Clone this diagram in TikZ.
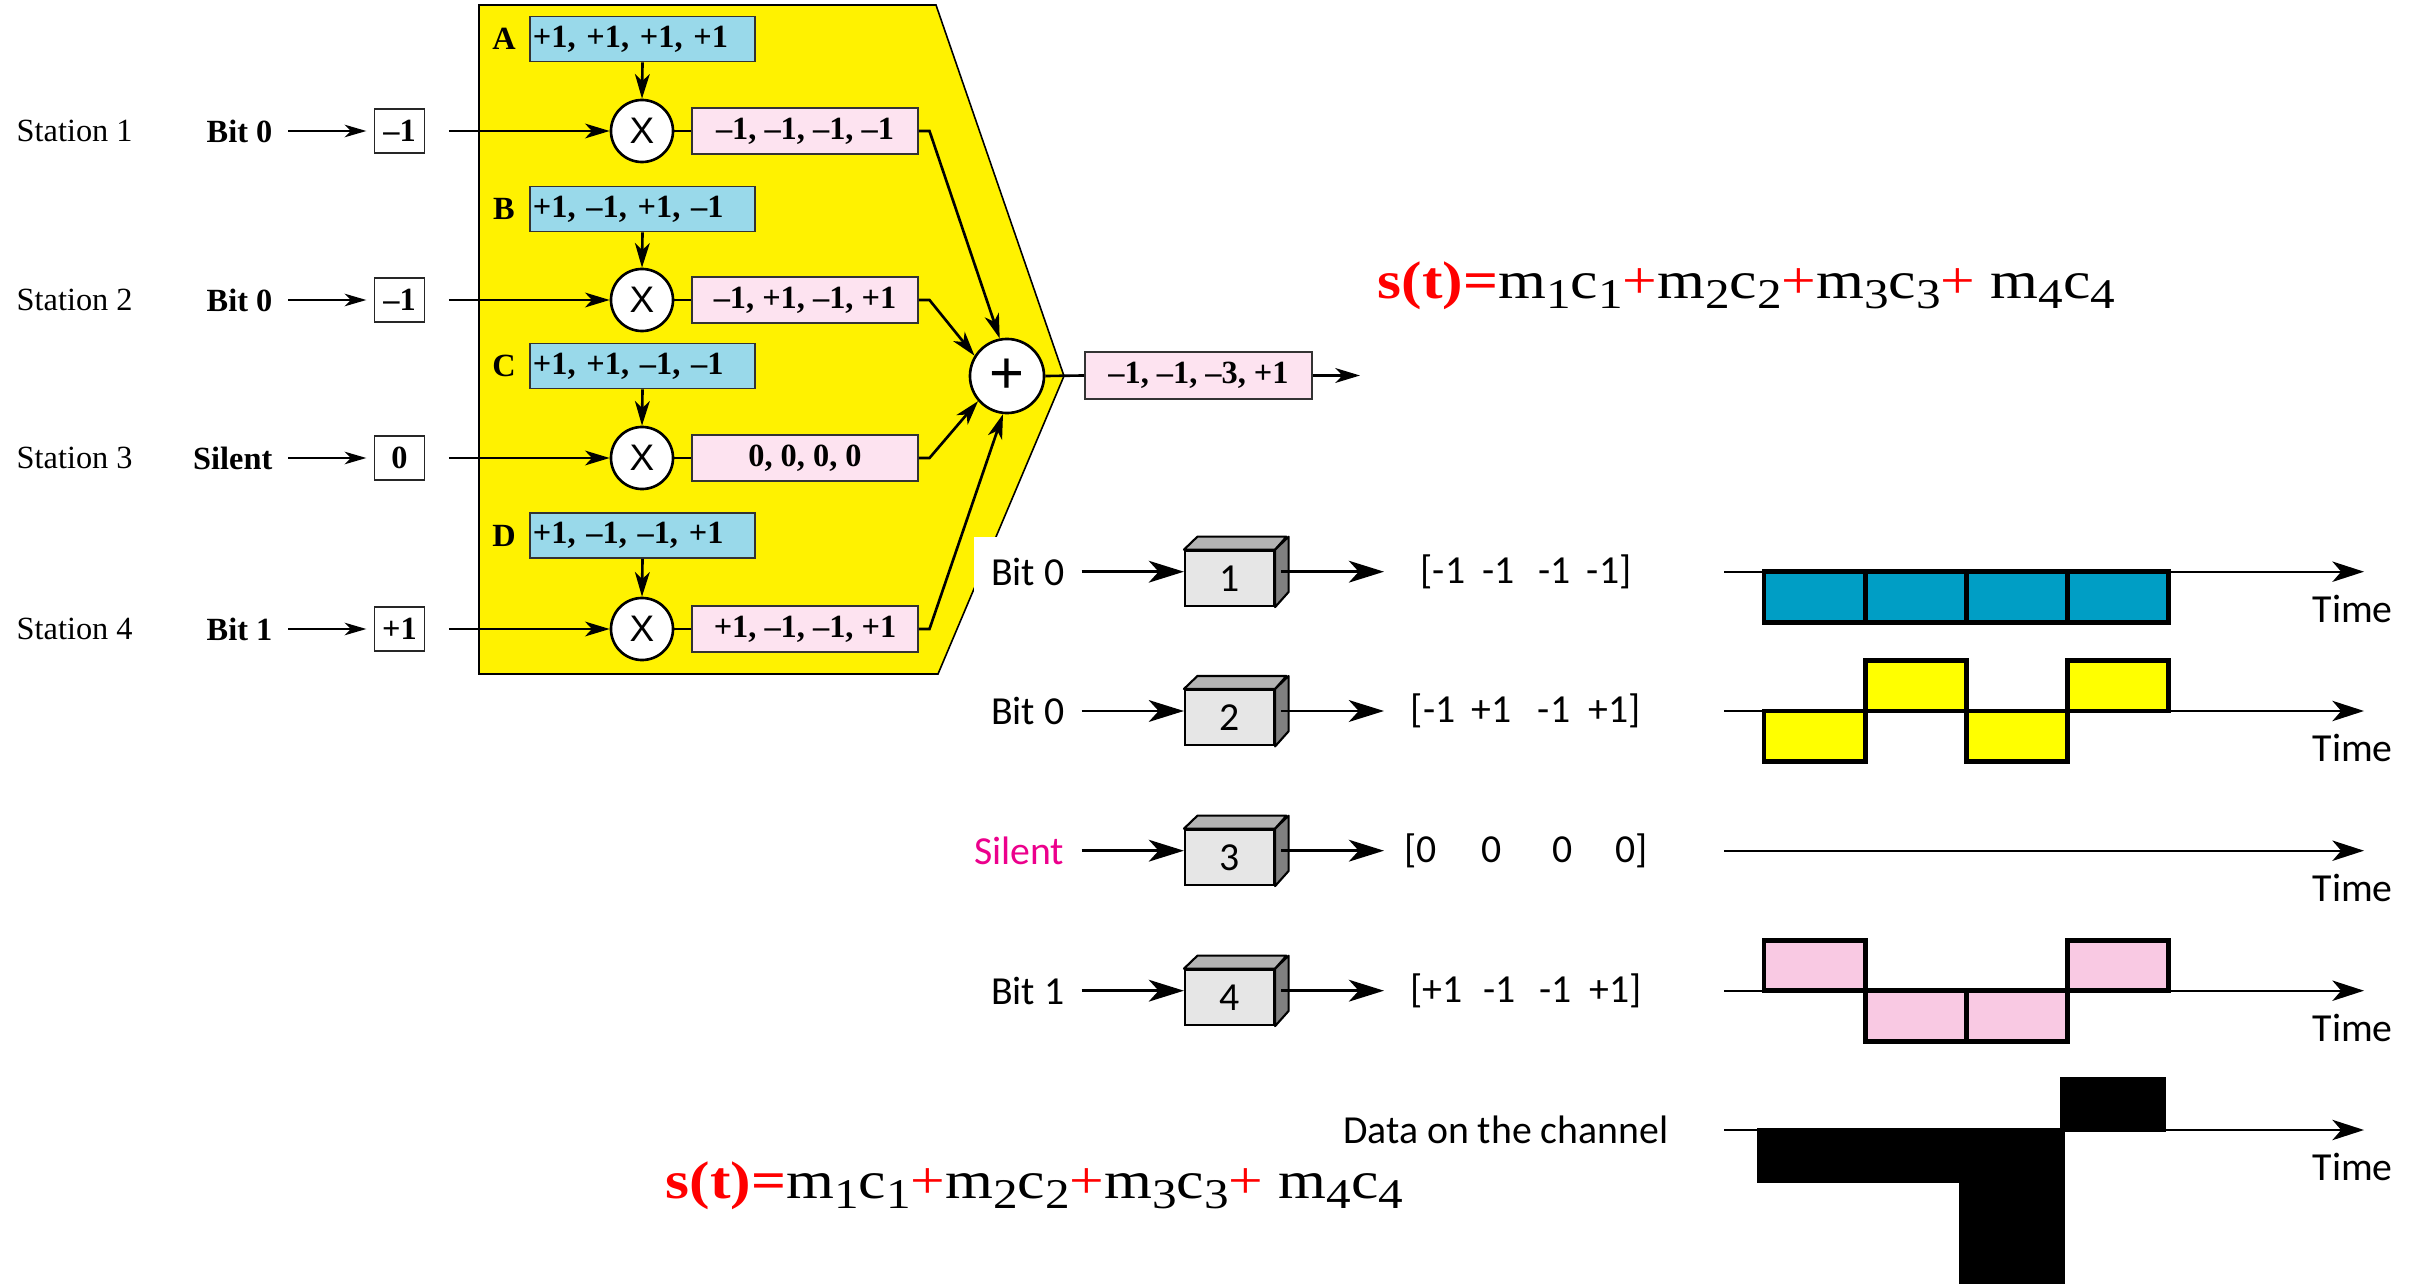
\documentclass[tikz,border=0pt]{standalone}
\usepackage{fontspec}
\setmainfont{Liberation Serif}
\newfontfamily\fArial{Liberation Sans}
\newfontfamily\fMyr{Carlito}
\usetikzlibrary{arrows.meta}
\definecolor{codeblue}{HTML}{99D9EA}
\definecolor{respink}{HTML}{FDE3F0}
\definecolor{wblue}{HTML}{009EC5}
\definecolor{wpink}{HTML}{F9C9E3}
\definecolor{wyellow}{HTML}{FFFF00}
\definecolor{cubefront}{HTML}{E6E6E6}
\definecolor{cubetop}{HTML}{B3B3B3}
\definecolor{cubeside}{HTML}{808080}
\definecolor{silentc}{HTML}{EC008C}
\definecolor{fred}{HTML}{FF0000}
\def\PX{0.28453pt}
\newcommand\sbx[1]{\raisebox{-3.6pt}{\fontsize{14}{15}\selectfont #1}}
\newcommand\formulax{\scalebox{1}[0.86]{\fontsize{17.5}{20}\selectfont\textcolor{fred}{\textbf{s(t)=}}m\sbx{1}c\sbx{1}\textcolor{fred}{+}m\sbx{2}c\sbx{2}\textcolor{fred}{+}m\sbx{3}c\sbx{3}\textcolor{fred}{+} m\sbx{4}c\sbx{4}}}
\begin{document}
\begin{tikzpicture}[x=0.01cm,y=-0.01cm,
 stat/.style={font=\fontsize{9.2}{11}\selectfont, inner sep=0pt, anchor=west},
 bitl/.style={font=\fontsize{9.2}{11}\selectfont\bfseries, inner sep=0pt, anchor=east},
 valbox/.style={draw=black!85, line width=0.45pt, fill=white, minimum width={50*\PX}, minimum height={44*\PX}, inner sep=0pt, font=\fontsize{9.2}{11}\selectfont\bfseries},
 codebox/.style={draw=black!80, line width=0.5pt, fill=codeblue, text width={219*\PX}, align=left, inner xsep={3*\PX}, inner ysep=0pt, minimum height={45*\PX}, font=\fontsize{9.2}{11}\selectfont\bfseries},
 resbox/.style={draw=black!80, line width=0.5pt, fill=respink, minimum width={226*\PX}, minimum height={46*\PX}, inner sep=0pt, font=\fontsize{9.2}{11}\selectfont\bfseries},
 lett/.style={font=\fontsize{9.2}{11}\selectfont\bfseries, inner sep=0pt},
 mult/.style={circle, draw, line width=0.75pt, fill=white, minimum size={62*\PX}, inner sep=0pt, font=\fArial\fontsize{10.5}{12}\selectfont},
 plusc/.style={circle, draw, line width=0.75pt, fill=white, minimum size={74*\PX}, inner sep=0pt, font=\fArial\fontsize{17}{18}\selectfont},
 thinarr/.style={line width=0.4pt, -{Stealth[length=6.2pt,width=3.6pt,inset=1.8pt]}},
 medarr/.style={line width=0.75pt, -{Stealth[length=7pt,width=4.2pt,inset=2pt]}},
 conn/.style={line width=0.75pt},
 rlab/.style={font=\fMyr\fontsize{11.3}{13}\selectfont, inner sep=0pt},
 cubef/.style={draw, line width=0.6pt, fill=cubefront, minimum width={89*\PX}, minimum height={55.3*\PX}, inner sep=0pt, font=\fMyr\fontsize{11.3}{13}\selectfont},
 cubeface/.style={draw, line width=0.6pt, line join=round},
 bigarr/.style={line width=0.85pt, -{Stealth[length=10pt,width=6.2pt,inset=2.8pt]}},
 axarr/.style={line width=0.6pt, -{Stealth[length=9pt,width=5.8pt,inset=2.5pt]}},
 wave/.style={draw=black, line width=1.4pt},
]
\useasboundingbox (0,0) rectangle (2423,1285);

% yellow block
\filldraw[fill=yellow, draw=black, line width=0.45pt] (479,5) -- (936,5) -- (1064,376) -- (938,674) -- (479,674) -- cycle;

% summing node and output
\node[plusc] (plus) at (1007,376) {+};
\node[resbox, minimum width={227*\PX}, minimum height={47*\PX}] (outb) at (1198.5,375.5) {–1, –1, –3, +1};
\coordinate (oute) at (1360,375.5);
\draw[conn] (plus.east) -- (outb.west);
\draw[medarr] (outb.east) -- (oute);

% ---- row 1
\node[stat] (st1) at (16,131) {Station 1};
\node[bitl] (bt1) at (273,131) {Bit 0};
\node[valbox] (vb1) at (399.5,131) {–1};
\node[lett] (la) at (504,39) {A};
\node[codebox] (cb1) at (642.5,39) {+1, +1, +1, +1};
\node[mult] (m1) at (642,131) {X};
\node[resbox] (rs1) at (805,131) {–1, –1, –1, –1};
\coordinate (k1) at (929.5,131);
% ---- row 2
\node[stat] (st2) at (16,300) {Station 2};
\node[bitl] (bt2) at (273,300) {Bit 0};
\node[valbox] (vb2) at (399.5,300) {–1};
\node[lett] (lb) at (504,209) {B};
\node[codebox] (cb2) at (642.5,209) {+1, –1, +1, –1};
\node[mult] (m2) at (642,300) {X};
\node[resbox] (rs2) at (805,300) {–1, +1, –1, +1};
\coordinate (k2) at (929.5,300);
% ---- row 3
\node[stat] (st3) at (16,458) {Station 3};
\node[bitl] (bt3) at (273,458) {Silent};
\node[valbox] (vb3) at (399.5,458) {0};
\node[lett] (lc) at (504,366) {C};
\node[codebox] (cb3) at (642.5,366) {+1, +1, –1, –1};
\node[mult] (m3) at (642,458) {X};
\node[resbox] (rs3) at (805,458) {0, 0, 0, 0};
\coordinate (k3) at (929.5,458);
% ---- row 4
\node[stat] (st4) at (16,629) {Station 4};
\node[bitl] (bt4) at (273,629) {Bit 1};
\node[valbox] (vb4) at (399.5,629) {+1};
\node[lett] (ld) at (504,535.5) {D};
\node[codebox] (cb4) at (642.5,535.5) {+1, –1, –1, +1};
\node[mult] (m4) at (642,629) {X};
\node[resbox] (rs4) at (805,629) {+1, –1, –1, +1};
\coordinate (k4) at (929.5,629);

\foreach \i/\ang in {1/101,2/148,3/221,4/264}{
  \draw[thinarr, shorten <=4.3pt, shorten >=2.1pt] (bt\i.east) -- (vb\i.west);
  \draw[medarr, shorten <=6.7pt] (vb\i.east) -- (m\i.west);
  \draw[medarr] (cb\i.south) -- (m\i.north);
  \draw[conn] (m\i.east) -- (rs\i.west);
  \draw[medarr, line join=miter] (rs\i.east) -- (k\i) -- (plus.\ang);
}

% white panel of the lower-right diagram
\fill[white] (974,537) rectangle (2423,1285);

% ---- right part: encoders
\foreach \i/\y/\lab/\col in {1/571.7/Bit 0/black, 2/711/Bit 0/black, 3/850.7/Silent/silentc, 4/990.7/Bit 1/black}{
  \node[rlab, anchor=east, text=\col] (rb\i) at (1065,\y) {\lab};
  \node[cubef] (cube\i) at (1229.5,\y+6.7) {\i};
  \filldraw[cubeface, fill=cubetop] (cube\i.north west) -- ++(13.5,-13) -- ++(89,0) -- (cube\i.north east) -- cycle;
  \filldraw[cubeface, fill=cubeside] (cube\i.north east) -- ++(13.5,-13) -- ++(0,55.3) -- (cube\i.south east) -- cycle;
  \draw[bigarr, shorten <=4.75pt] (rb\i.east) -- (rb\i.east -| cube\i.west);
  \coordinate (os\i) at (1281,\y);
  \coordinate (oe\i) at (1384,\y);
  \draw[bigarr] (os\i) -- (oe\i);
  \coordinate (ts\i) at (1724,\y);
  \coordinate (te\i) at (2364,\y);
  \draw[axarr] (ts\i) -- (te\i);
  \node[rlab, anchor=base west] (tl\i) at (2312,\y+50.5) {Time};
}
\node[rlab] (vec1) at (1526,571.7) {[-1\hspace{4.85pt}-1\hspace{6.9pt}-1\hspace{4.5pt}-1]};
\node[rlab] (vec2) at (1526,711) {[-1\hspace{4.5pt}+1\hspace{7.6pt}-1\hspace{5.3pt}+1]};
\node[rlab] (vec3) at (1526,850.7) {[0\hspace{12.8pt}0\hspace{14.2pt}0\hspace{12.2pt}0]};
\node[rlab] (vec4) at (1526,990.7) {[+1\hspace{5.8pt}-1\hspace{6.9pt}-1\hspace{4.95pt}+1]};

% waveforms
\foreach \k/\lv in {0/-1,1/-1,2/-1,3/-1}
  \filldraw[wave, fill=wblue] ({1764+\k*101.2},571.7) rectangle ({1764+(\k+1)*101.2},{571.7-\lv*50.5});
\foreach \k/\lv in {0/-1,1/1,2/-1,3/1}
  \filldraw[wave, fill=wyellow] ({1764+\k*101.2},711) rectangle ({1764+(\k+1)*101.2},{711-\lv*50.5});
\foreach \k/\lv in {0/1,1/-1,2/-1,3/1}
  \filldraw[wave, fill=wpink] ({1764+\k*101.2},990.7) rectangle ({1764+(\k+1)*101.2},{990.7-\lv*50.5});

% channel
\coordinate (ts5) at (1724,1130);
\coordinate (te5) at (2364,1130);
\draw[axarr] (ts5) -- (te5);
\node[rlab, anchor=base west] (tl5) at (2312,1180.5) {Time};
\node[rlab, anchor=east] (dch) at (1669,1130) {Data on the channel};
\foreach \k/\lv in {0/-1,1/-1,2/-3,3/1}
  \filldraw[wave, fill=black] ({1759+\k*101.2},1130) rectangle ({1759+(\k+1)*101.2},{1130-\lv*50.5});

% formulas
\node[anchor=base west, inner sep=0pt] (form1) at (1377,298) {\formulax};
\node[anchor=base west, inner sep=0pt] (form2) at (665,1198) {\formulax};
\end{tikzpicture}
\end{document}
